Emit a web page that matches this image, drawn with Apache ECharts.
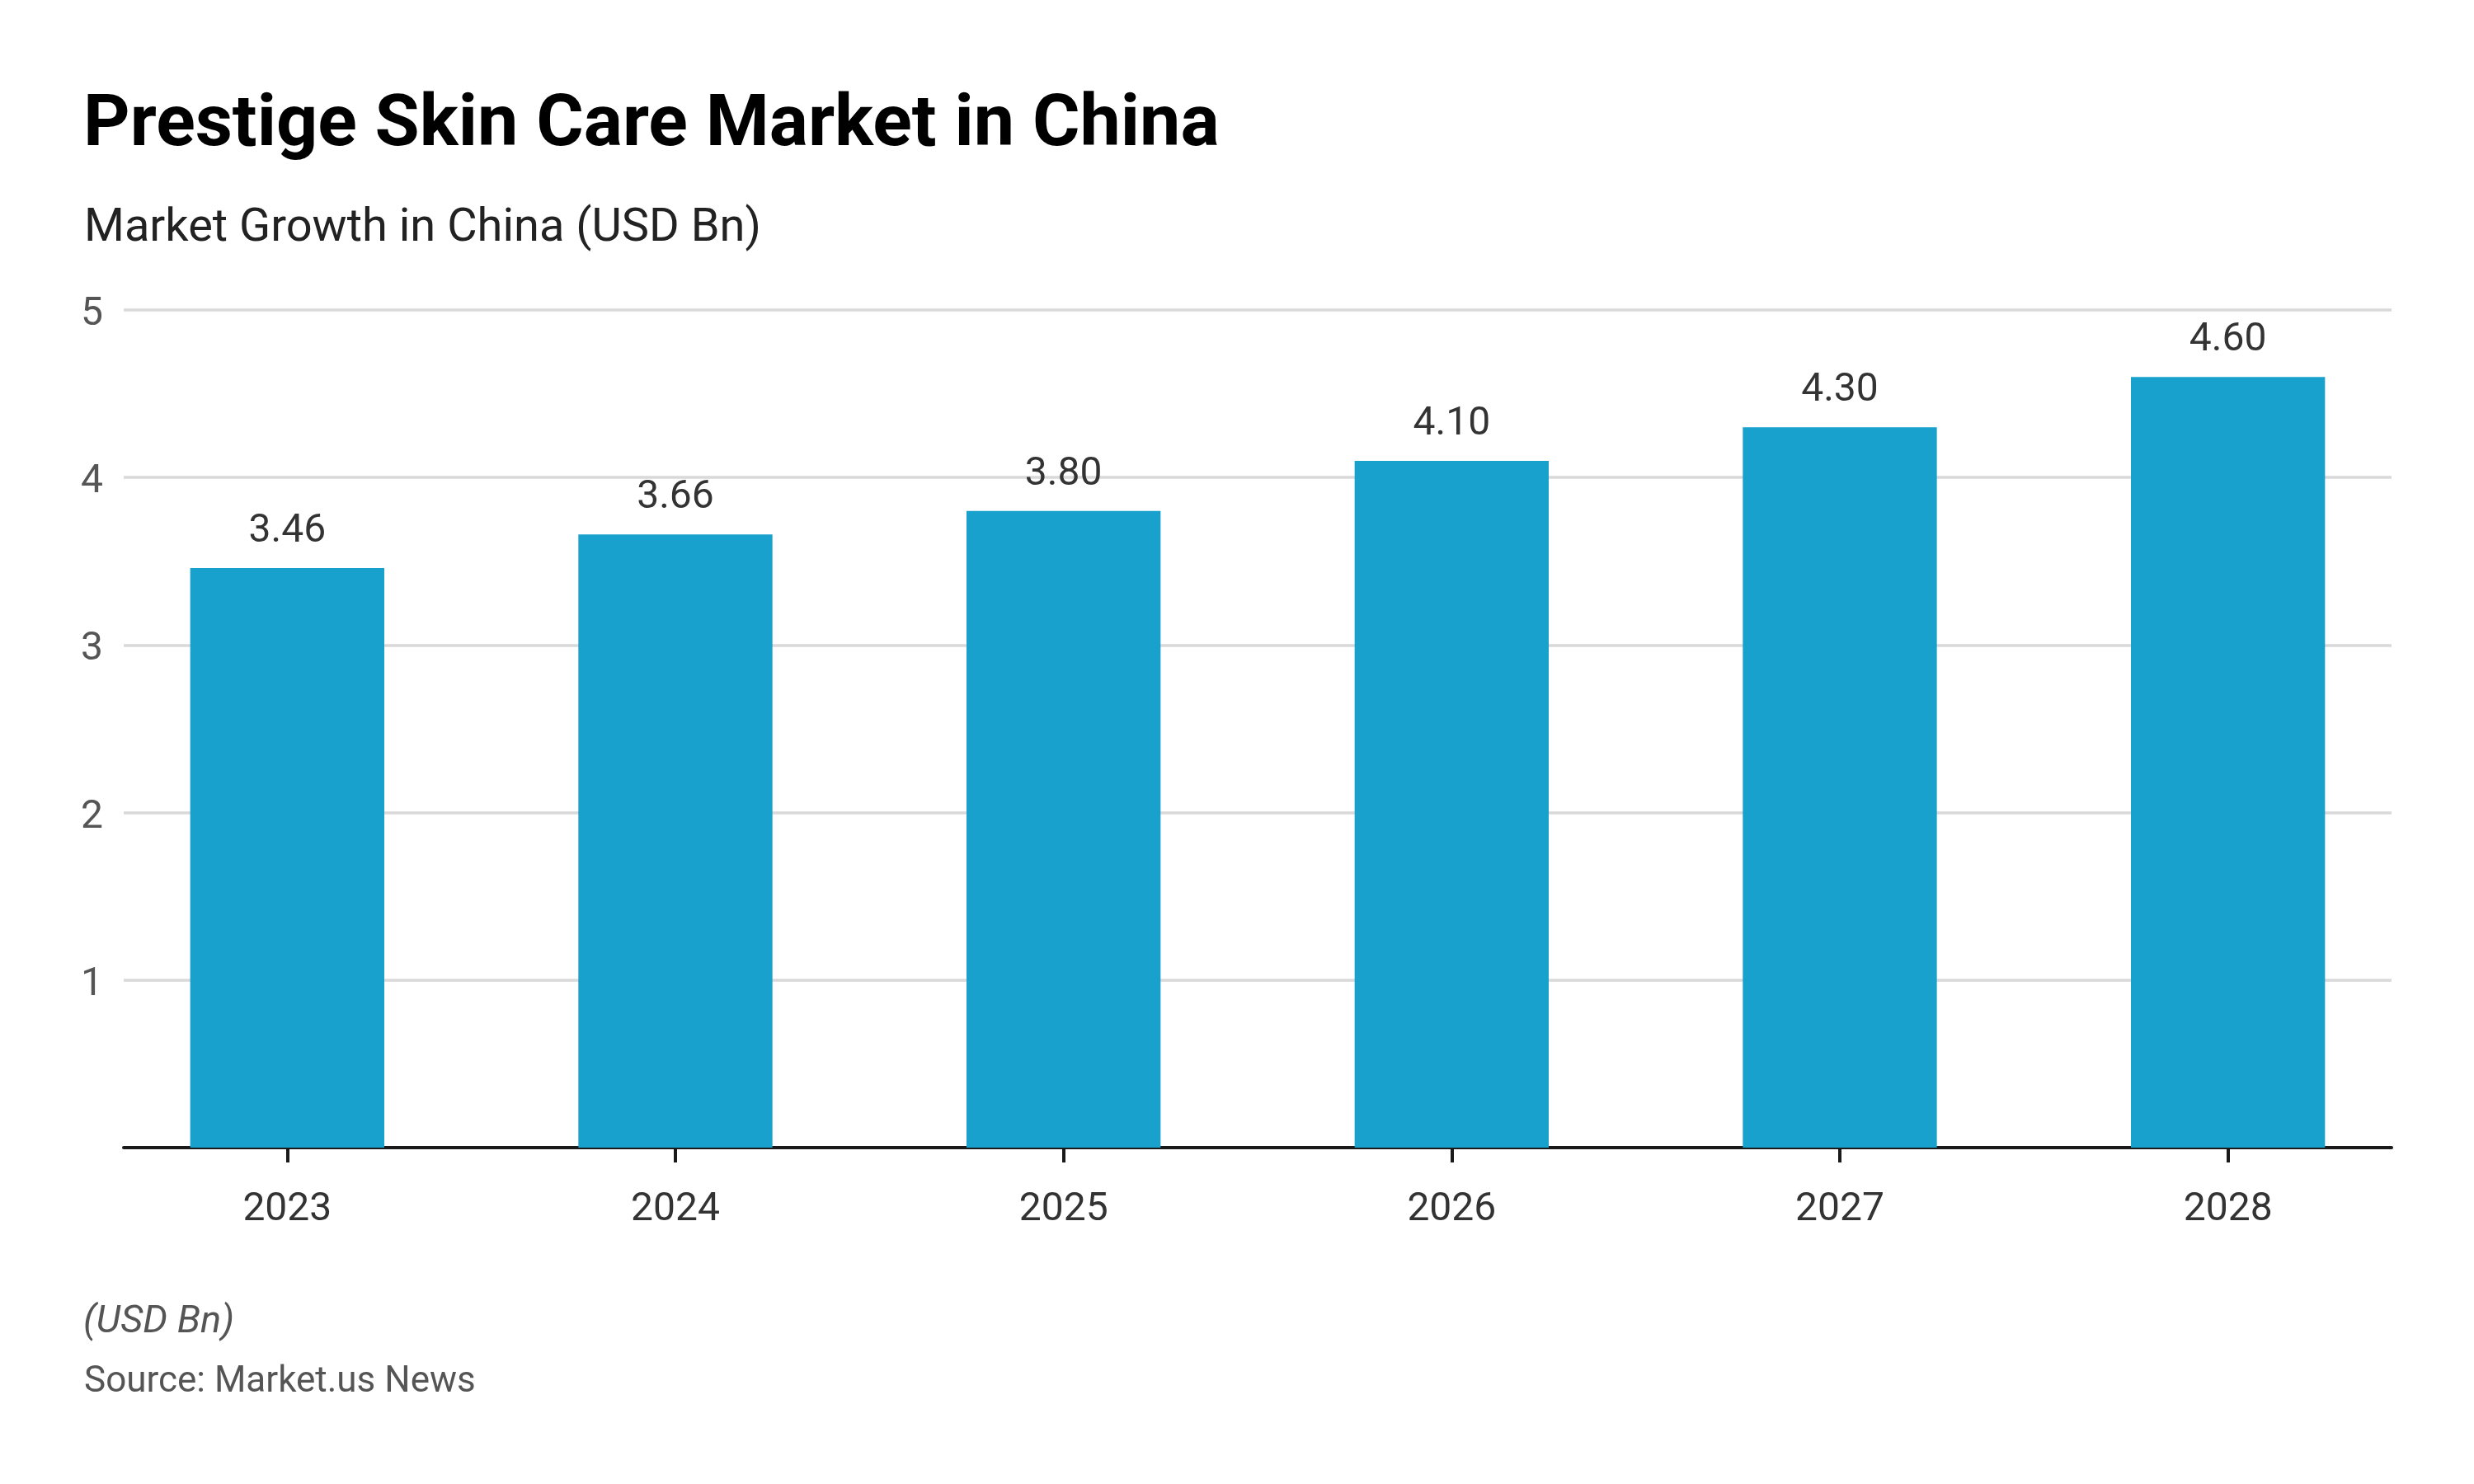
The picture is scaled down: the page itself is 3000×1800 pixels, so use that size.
<!DOCTYPE html>
<html>
<head>
<meta charset="utf-8">
<script src="https://cdn.jsdelivr.net/npm/echarts@6/dist/echarts.min.js"></script>
<style>
html,body{margin:0;padding:0;background:#fff;}
#chart{width:3000px;height:1800px;}
</style>
</head>
<body>
<div id="chart"></div>
<script>
const categories = ['2023', '2024', '2025', '2026', '2027', '2028'];
const marketValues = [3.46, 3.66, 3.80, 4.10, 4.30, 4.60];
const yTicks = [0, 1, 2, 3, 4, 5];

const chart = echarts.init(document.getElementById('chart'));
const FONT = 'Roboto';
const option = {
  backgroundColor: '#ffffff',
  animation: false,
  title: [
    { text: 'Prestige Skin Care Market in China', left: 96, top: 105,
      textStyle: { fontFamily: FONT, fontWeight: 'bold', fontSize: 88, lineHeight: 88, color: '#000' } },
    { text: 'Market Growth in China (USD Bn)', left: 97, top: 245,
      textStyle: { fontFamily: FONT, fontWeight: 'normal', fontSize: 56, lineHeight: 56, color: '#222' } },
    { text: '(USD Bn)', left: 96, top: 1576,
      textStyle: { fontFamily: FONT, fontStyle: 'italic', fontWeight: 'normal', fontSize: 47, lineHeight: 47, color: '#555' } },
    { text: 'Source: Market.us News', left: 97, top: 1650,
      textStyle: { fontFamily: FONT, fontWeight: 'normal', fontSize: 44, lineHeight: 44, color: '#555' } }
  ],
  grid: [
    { left: 150, right: 100, top: 376, bottom: 408, containLabel: false },
    { left: 113, right: 63, top: 376, bottom: 408, containLabel: false }
  ],
  xAxis: [
    { type: 'category', gridIndex: 0, data: categories,
      axisLine: { show: true, lineStyle: { color: '#1a1a1a', width: 4 } },
      axisTick: { show: false }, axisLabel: { show: false }, splitLine: { show: false } },
    { type: 'category', gridIndex: 1, data: categories,
      axisLine: { show: false },
      axisTick: { show: true, alignWithLabel: true, length: 18, lineStyle: { color: '#1a1a1a', width: 4 } },
      axisLabel: { fontFamily: FONT, fontSize: 48, color: '#333', margin: 52 },
      splitLine: { show: false } }
  ],
  yAxis: [
    { type: 'value', gridIndex: 0, min: 0, max: 5, interval: 1,
      axisLine: { show: false }, axisTick: { show: false },
      axisLabel: { margin: 25,
        formatter: v => (v === 0 || yTicks.indexOf(v) < 0) ? '' : '{t|' + v + '}',
        rich: { t: { fontFamily: FONT, fontSize: 48, lineHeight: 48, color: '#555', padding: [12, 0, 0, 0] } } },
      splitLine: { show: true, lineStyle: { color: '#d9d9d9', width: 3.5 } } },
    { type: 'value', gridIndex: 1, min: 0, max: 5, interval: 1, show: false,
      splitLine: { show: false } }
  ],
  series: [
    { type: 'bar', xAxisIndex: 1, yAxisIndex: 1, data: marketValues,
      barWidth: '50%',
      itemStyle: { color: '#19a1cd' },
      label: { show: true, position: 'top', distance: 20, fontFamily: FONT, fontSize: 48, color: '#333',
        formatter: p => p.value.toFixed(2) } }
  ]
};
chart.setOption(option);
</script>
</body>
</html>
